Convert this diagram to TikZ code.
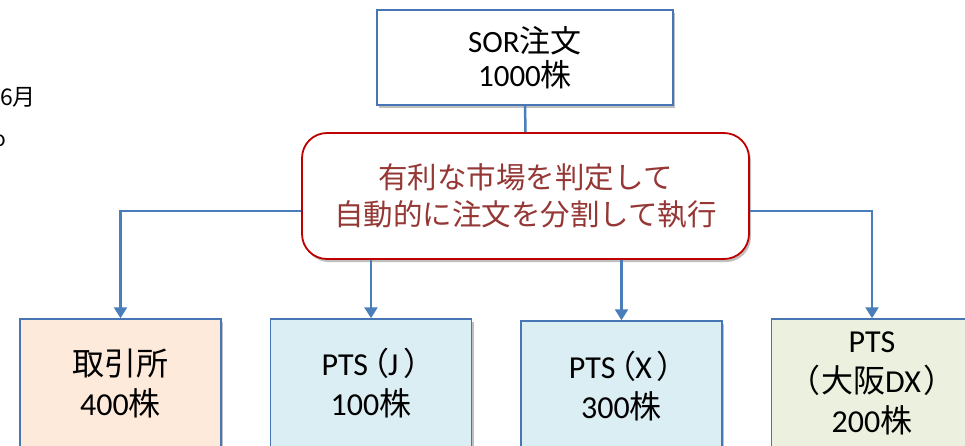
\documentclass[tikz,border=0pt]{standalone}
\usepackage{fontspec}
\setmainfont{Carlito}
\newfontfamily\jp{Noto Sans CJK JP}
\newfontfamily\jpp[RawFeature=+palt]{Noto Sans CJK JP}
\usetikzlibrary{arrows.meta,shadows}
\definecolor{lineblue}{RGB}{74,126,187}
\definecolor{boxblue}{RGB}{72,118,180}
\definecolor{judgeborder}{RGB}{192,0,0}
\definecolor{judgetext}{RGB}{149,55,53}
\definecolor{peach}{RGB}{253,234,218}
\definecolor{lblue}{RGB}{219,238,244}
\definecolor{lgreen}{RGB}{235,241,222}
\begin{document}
\begin{tikzpicture}[x=1pt,y=-1pt,
  shadowed/.style={drop shadow={shadow xshift=2pt,shadow yshift=-3pt,opacity=0.25,fill=black}},
  topbox/.style={draw=boxblue,line width=1.5pt,fill=white,shadowed,align=center,inner sep=0pt,
    minimum width=296pt,minimum height=95pt,font=\fontsize{31}{34}\selectfont},
  judge/.style={draw=judgeborder,line width=1.8pt,fill=white,rounded corners=25pt,shadowed,align=center,
    inner sep=0pt,minimum width=447pt,minimum height=126pt,text=judgetext,font=\jp\fontsize{29.5}{37}\selectfont},
  mkt/.style={draw=boxblue,line width=1.5pt,shadowed,align=center,inner sep=0pt,
    minimum width=201pt,minimum height=128pt,font=\fontsize{32}{40}\selectfont},
  conn/.style={draw=lineblue,line width=2.5pt},
  connarrow/.style={conn,-{Triangle[width=13pt,length=11pt]}}]
\useasboundingbox (0,0) rectangle (965,445);

\node[font=\jp\fontsize{23}{23}\selectfont,anchor=east,inner sep=0pt] (date) at (36,97) {6月};
\node[font=\jp\fontsize{21}{21}\selectfont,inner sep=0pt] (frag) at (0,141) {o};

\node[topbox] (sor) at (525,57.5) {SOR{\jp 注文}\\1000{\jp 株}};
\node[judge] (judge) at (525.5,196) {有利な市場を判定して\\自動的に注文を分割して執行};

\node[mkt,fill=peach] (m1) at (120.5,383) {{\jp 取引所}\\400{\jp 株}};
\node[mkt,fill=lblue] (m2) at (371,383) {PTS\hspace{4pt}{\jpp （}J\hspace{6pt}{\jpp ）}\\100{\jp 株}};
\node[mkt,fill=lblue,minimum height=131pt] (m3) at (621.5,386.5) {PTS\hspace{4pt}{\jpp （}X\hspace{6pt}{\jpp ）}\\300{\jp 株}};
\node[mkt,fill=lgreen] (m4) at (872,383) {PTS\\{\jpp （}\hspace{2pt}{\jp 大阪}DX\hspace{4pt}{\jpp ）}\\200{\jp 株}};

\draw[conn] (sor.south) -- (judge.north);
\draw[connarrow] ([yshift=-15pt]judge.west) -| (m1.north);
\draw[connarrow] ([yshift=-15pt]judge.east) -| (m4.north);
\draw[connarrow] (judge.south -| m2.north) -- (m2.north);
\draw[connarrow] (judge.south -| m3.north) -- (m3.north);
\end{tikzpicture}
\end{document}
